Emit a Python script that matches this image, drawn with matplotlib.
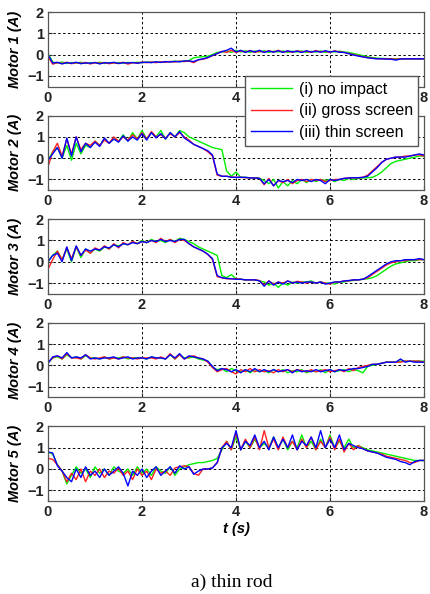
import numpy as np
import matplotlib
matplotlib.use('Agg')
import matplotlib.pyplot as plt

# sample times (s), one value every 0.1 s
t = np.linspace(0, 8, 81)

# Motor 1 current (A)
m1_green = [0.05, -0.35, -0.4, -0.35, -0.42, -0.38, -0.4, -0.36, -0.42, -0.38,
            -0.4, -0.36, -0.42, -0.38, -0.4, -0.37, -0.41, -0.37, -0.39, -0.36,
            -0.38, -0.35, -0.37, -0.34, -0.36, -0.33, -0.34, -0.31, -0.33, -0.3,
            -0.28, -0.15, -0.12, -0.1, -0.08, 0.0, 0.1, 0.12, 0.18, 0.1,
            0.2, 0.12, 0.18, 0.1, 0.17, 0.12, 0.18, 0.1, 0.16, 0.12,
            0.17, 0.1, 0.16, 0.12, 0.17, 0.1, 0.15, 0.12, 0.17, 0.1,
            0.15, 0.12, 0.16, 0.12, 0.1, 0.05, 0.0, -0.05, -0.1, -0.14,
            -0.17, -0.18, -0.19, -0.2, -0.2, -0.2, -0.2, -0.2, -0.2, -0.2, -0.2]
m1_red = [-0.1, -0.45, -0.38, -0.42, -0.36, -0.43, -0.38, -0.41, -0.37, -0.44,
          -0.38, -0.41, -0.37, -0.43, -0.39, -0.42, -0.36, -0.45, -0.38, -0.4,
          -0.36, -0.38, -0.35, -0.38, -0.34, -0.36, -0.32, -0.35, -0.31, -0.33,
          -0.3, -0.38, -0.25, -0.22, -0.15, -0.05, 0.05, 0.15, 0.1, 0.2,
          0.1, 0.17, 0.12, 0.19, 0.1, 0.16, 0.11, 0.18, 0.12, 0.2,
          0.11, 0.16, 0.1, 0.18, 0.12, 0.16, 0.1, 0.19, 0.12, 0.16,
          0.1, 0.18, 0.12, 0.1, 0.05, 0.0, -0.05, -0.1, -0.14, -0.17,
          -0.19, -0.2, -0.2, -0.2, -0.22, -0.2, -0.2, -0.2, -0.2, -0.2, -0.2]
m1_blue = [0.0, -0.4, -0.36, -0.44, -0.38, -0.41, -0.36, -0.43, -0.39, -0.41,
           -0.37, -0.44, -0.38, -0.4, -0.36, -0.42, -0.38, -0.4, -0.37, -0.41,
           -0.37, -0.36, -0.38, -0.34, -0.37, -0.33, -0.35, -0.32, -0.34, -0.3,
           -0.3, -0.33, -0.24, -0.2, -0.14, -0.04, 0.05, 0.14, 0.2, 0.3,
           0.12, 0.2, 0.1, 0.18, 0.12, 0.2, 0.1, 0.17, 0.11, 0.18,
           0.1, 0.18, 0.12, 0.16, 0.1, 0.18, 0.12, 0.16, 0.11, 0.18,
           0.12, 0.16, 0.11, 0.1, 0.04, -0.02, -0.07, -0.11, -0.15, -0.18,
           -0.2, -0.2, -0.21, -0.22, -0.26, -0.21, -0.2, -0.2, -0.2, -0.2, -0.2]

# Motor 2 current (A)
m2_green = [-0.1, 0.3, 0.5, 0.0, 0.6, -0.1, 0.7, 0.2, 0.6, 0.5,
            0.8, 0.6, 0.9, 0.7, 0.9, 0.8, 1.1, 0.8, 1.2, 0.9,
            1.3, 0.9, 1.2, 1.0, 1.3, 0.9, 1.2, 1.0, 1.3, 1.2,
            1.0, 0.9, 0.8, 0.7, 0.6, 0.5, 0.45, 0.4, -0.6, -0.85,
            -0.65, -0.9, -0.9, -0.92, -0.93, -0.95, -1.05, -1.2, -1.0, -1.4,
            -1.1, -1.3, -1.05, -1.2, -1.0, -1.15, -1.0, -1.1, -1.0, -1.05,
            -1.0, -1.1, -1.0, -1.05, -0.95, -1.0, -0.95, -0.93, -0.92, -0.9,
            -0.8, -0.65, -0.45, -0.25, -0.15, -0.1, -0.05, 0.0, 0.05, 0.1, 0.1]
m2_red = [-0.4, 0.3, 0.7, 0.1, 0.9, 0.2, 1.0, 0.4, 0.7, 0.6,
          0.8, 0.6, 0.85, 0.7, 1.0, 0.8, 1.0, 0.85, 1.1, 0.9,
          1.2, 0.9, 1.25, 1.0, 1.1, 0.95, 1.15, 1.0, 1.2, 1.0,
          0.85, 0.65, 0.55, 0.45, 0.3, 0.1, -0.8, -0.85, -0.85, -0.88,
          -0.9, -0.9, -0.92, -0.92, -0.93, -0.95, -1.25, -0.95, -1.3, -1.05,
          -1.15, -1.0, -1.2, -1.05, -1.0, -1.1, -1.0, -1.05, -1.0, -1.1,
          -1.05, -1.0, -1.0, -0.95, -0.93, -0.92, -0.92, -0.9, -0.8, -0.6,
          -0.4, -0.2, -0.05, 0.0, 0.05, 0.05, 0.1, 0.1, 0.15, 0.15, 0.1]
m2_blue = [-0.1, 0.2, 0.5, 0.0, 0.95, 0.1, 1.0, 0.3, 0.7, 0.5,
           0.75, 0.55, 0.95, 0.7, 0.9, 0.75, 1.05, 0.8, 1.0, 0.85,
           1.15, 0.85, 1.2, 0.95, 1.15, 0.9, 1.2, 1.0, 1.25, 0.95,
           0.8, 0.65, 0.55, 0.45, 0.35, 0.15, -0.75, -0.85, -0.85, -0.9,
           -0.9, -0.9, -0.9, -0.93, -0.93, -0.95, -1.2, -1.0, -1.3, -1.05,
           -1.1, -1.05, -1.15, -1.0, -1.05, -1.0, -1.1, -1.0, -1.05, -1.2,
           -1.0, -1.05, -1.0, -0.95, -0.93, -0.92, -0.92, -0.9, -0.85, -0.65,
           -0.45, -0.2, -0.05, 0.0, 0.05, 0.05, 0.05, 0.1, 0.15, 0.2, 0.15]

# Motor 3 current (A)
m3_green = [0.0, 0.3, 0.5, 0.1, 0.6, 0.0, 0.7, 0.2, 0.6, 0.4,
            0.6, 0.5, 0.7, 0.6, 0.8, 0.75, 0.85, 0.8, 0.95, 0.85,
            1.0, 0.9, 1.05, 0.95, 1.0, 0.9, 1.05, 0.95, 1.1, 1.05,
            0.95, 0.85, 0.7, 0.6, 0.5, 0.4, 0.3, -0.65, -0.75, -0.6,
            -0.8, -0.82, -0.85, -0.85, -0.85, -0.9, -0.95, -1.1, -1.0, -1.2,
            -1.0, -1.1, -0.95, -1.0, -0.95, -0.95, -0.9, -1.0, -0.95, -1.0,
            -1.0, -1.05, -0.95, -0.95, -0.9, -0.88, -0.85, -0.82, -0.8, -0.75,
            -0.65, -0.5, -0.35, -0.2, -0.1, -0.05, 0.0, 0.05, 0.05, 0.1, 0.1]
m3_red = [-0.35, 0.1, 0.5, 0.1, 0.65, 0.15, 0.7, 0.3, 0.55, 0.4,
          0.65, 0.55, 0.75, 0.6, 0.85, 0.65, 0.9, 0.8, 0.95, 0.85,
          0.95, 0.9, 1.0, 0.9, 1.1, 0.95, 1.05, 0.9, 1.05, 1.0,
          0.85, 0.7, 0.6, 0.5, 0.35, 0.1, -0.7, -0.75, -0.8, -0.8,
          -0.8, -0.82, -0.85, -0.85, -0.85, -0.88, -1.1, -0.9, -1.05, -0.95,
          -1.0, -0.9, -1.0, -0.92, -0.95, -1.0, -0.95, -1.0, -0.95, -1.0,
          -1.05, -0.95, -0.95, -0.9, -0.9, -0.85, -0.85, -0.82, -0.75, -0.6,
          -0.45, -0.3, -0.15, -0.05, 0.0, 0.05, 0.05, 0.1, 0.1, 0.1, 0.1]
m3_blue = [0.0, 0.3, 0.4, 0.0, 0.7, 0.05, 0.75, 0.3, 0.6, 0.5,
           0.6, 0.55, 0.7, 0.65, 0.8, 0.7, 0.85, 0.8, 0.9, 0.85,
           0.95, 0.9, 1.0, 0.95, 1.05, 0.95, 1.0, 0.95, 1.05, 1.05,
           0.85, 0.7, 0.6, 0.5, 0.35, 0.15, -0.65, -0.75, -0.78, -0.8,
           -0.82, -0.82, -0.85, -0.85, -0.85, -0.9, -1.15, -0.9, -1.1, -0.95,
           -1.05, -0.9, -1.0, -0.95, -1.0, -0.95, -0.95, -1.0, -0.95, -1.05,
           -1.0, -0.95, -0.95, -0.9, -0.88, -0.85, -0.85, -0.82, -0.7, -0.55,
           -0.4, -0.25, -0.1, 0.0, 0.05, 0.05, 0.1, 0.1, 0.1, 0.15, 0.1]

# Motor 4 current (A)
m4_green = [0.1, 0.35, 0.4, 0.3, 0.5, 0.35, 0.4, 0.3, 0.45, 0.35,
            0.35, 0.3, 0.4, 0.3, 0.35, 0.35, 0.4, 0.3, 0.35, 0.35,
            0.35, 0.3, 0.4, 0.35, 0.35, 0.3, 0.5, 0.3, 0.5, 0.35,
            0.35, 0.4, 0.3, 0.25, 0.2, -0.1, -0.2, -0.15, -0.3, -0.15,
            -0.25, -0.3, -0.2, -0.35, -0.2, -0.3, -0.25, -0.35, -0.2, -0.3,
            -0.2, -0.35, -0.25, -0.3, -0.2, -0.35, -0.25, -0.3, -0.2, -0.35,
            -0.2, -0.3, -0.25, -0.2, -0.3, -0.2, -0.25, -0.35, -0.05, 0.0,
            0.05, 0.1, 0.15, 0.15, 0.15, 0.2, 0.2, 0.2, 0.2, 0.2, 0.2]
m4_red = [0.15, 0.35, 0.45, 0.3, 0.55, 0.35, 0.35, 0.3, 0.5, 0.35,
          0.3, 0.35, 0.4, 0.3, 0.35, 0.3, 0.4, 0.35, 0.35, 0.3,
          0.35, 0.35, 0.35, 0.3, 0.4, 0.3, 0.55, 0.3, 0.5, 0.3,
          0.4, 0.45, 0.35, 0.3, 0.15, -0.1, -0.3, -0.2, -0.15, -0.3,
          -0.4, -0.2, -0.3, -0.15, -0.3, -0.2, -0.3, -0.25, -0.35, -0.2,
          -0.3, -0.2, -0.3, -0.2, -0.25, -0.3, -0.2, -0.3, -0.25, -0.2,
          -0.3, -0.25, -0.2, -0.3, -0.15, -0.25, -0.1, -0.05, 0.0, 0.05,
          0.05, 0.1, 0.15, 0.15, 0.15, 0.15, 0.2, 0.2, 0.2, 0.2, 0.15]
m4_blue = [0.1, 0.4, 0.45, 0.35, 0.6, 0.35, 0.4, 0.35, 0.5, 0.3,
           0.35, 0.3, 0.35, 0.35, 0.4, 0.3, 0.35, 0.4, 0.3, 0.35,
           0.35, 0.3, 0.4, 0.35, 0.35, 0.3, 0.5, 0.35, 0.55, 0.3,
           0.45, 0.4, 0.35, 0.3, 0.2, -0.05, -0.25, -0.15, -0.2, -0.3,
           -0.2, -0.35, -0.2, -0.3, -0.15, -0.3, -0.2, -0.3, -0.2, -0.3,
           -0.25, -0.2, -0.35, -0.2, -0.3, -0.25, -0.3, -0.2, -0.3, -0.25,
           -0.2, -0.3, -0.2, -0.25, -0.2, -0.15, -0.15, -0.1, -0.05, 0.05,
           0.05, 0.1, 0.15, 0.15, 0.15, 0.3, 0.15, 0.2, 0.15, 0.15, 0.15]

# Motor 5 current (A)
m5_green = [0.8, 0.7, 0.2, -0.1, -0.7, -0.3, 0.1, -0.2, 0.0, -0.4,
            0.1, -0.2, 0.0, -0.3, 0.1, -0.1, -0.2, 0.0, -0.3, 0.1,
            -0.2, 0.0, -0.3, 0.1, -0.1, -0.2, 0.1, -0.3, 0.0, 0.1,
            0.2, 0.25, 0.3, 0.3, 0.35, 0.4, 0.5, 0.9, 1.3, 0.9,
            1.5, 0.9, 1.3, 1.0, 1.4, 1.0, 1.2, 1.0, 1.5, 1.0,
            1.4, 0.9, 1.3, 1.0, 1.6, 1.0, 1.3, 0.9, 1.4, 1.0,
            1.6, 1.0, 1.3, 1.0, 1.4, 1.0, 1.1, 1.0, 0.9, 0.85,
            0.8, 0.75, 0.7, 0.65, 0.6, 0.55, 0.5, 0.45, 0.4, 0.4, 0.4]
m5_red = [0.5, 0.45, 0.2, -0.1, -0.6, -0.2, -0.5, 0.0, -0.6, -0.1,
          -0.3, 0.0, -0.4, -0.1, -0.2, 0.05, -0.3, -0.1, -0.5, 0.0,
          -0.3, -0.1, -0.5, 0.0, -0.2, -0.1, -0.3, 0.05, 0.1, 0.15,
          0.1, -0.2, -0.3, 0.0, 0.0, 0.05, 0.3, 1.0, 1.3, 0.9,
          1.7, 0.9, 1.4, 1.0, 1.5, 0.9, 1.8, 1.0, 1.4, 0.9,
          1.5, 1.0, 1.3, 0.9, 1.4, 1.0, 1.5, 0.9, 1.3, 1.0,
          1.5, 0.9, 1.4, 0.8, 1.2, 0.9, 1.1, 0.95, 0.85, 0.8,
          0.75, 0.7, 0.6, 0.55, 0.5, 0.45, 0.4, 0.3, 0.3, 0.4, 0.4]
m5_blue = [0.8, 0.75, 0.15, -0.1, -0.4, -0.6, 0.0, -0.4, 0.1, -0.3,
           -0.1, -0.4, 0.0, -0.3, -0.1, 0.1, -0.2, -0.8, -0.1, -0.3,
           0.0, -0.4, -0.1, 0.1, -0.3, -0.1, 0.1, -0.2, 0.15, 0.0,
           0.1, -0.25, -0.1, 0.0, 0.0, 0.05, 0.3, 1.0, 1.2, 1.0,
           1.8, 0.9, 1.3, 1.1, 1.6, 1.0, 1.3, 0.9, 1.5, 1.0,
           1.4, 1.0, 1.6, 0.9, 1.3, 1.1, 1.5, 1.0, 1.8, 1.0,
           1.4, 1.0, 1.6, 0.9, 1.2, 1.1, 1.0, 0.95, 0.85, 0.8,
           0.75, 0.65, 0.55, 0.5, 0.45, 0.35, 0.3, 0.2, 0.35, 0.4, 0.4]

motors = [
    (m1_green, m1_red, m1_blue),
    (m2_green, m2_red, m2_blue),
    (m3_green, m3_red, m3_blue),
    (m4_green, m4_red, m4_blue),
    (m5_green, m5_red, m5_blue),
]
series_labels = ['(i) no impact', '(ii) gross screen', '(iii) thin screen']
series_colors = ['#00ee00', '#ff2020', '#0000ff']
x_ticks = [0, 2, 4, 6, 8]
y_ticks = [-1, 0, 1, 2]

plt.rcParams['font.family'] = ['Liberation Sans', 'DejaVu Sans']

W, H = 430, 594
fig = plt.figure(figsize=(W / 100, H / 100), dpi=100)
fig.patch.set_facecolor('white')

ax_left, ax_right = 48, 424
ax_h = 74.5
lines = []
for k, series in enumerate(motors):
    top = 12 + 103.6 * k
    ax = fig.add_axes([ax_left / W, 1 - (top + ax_h) / H,
                       (ax_right - ax_left) / W, ax_h / H])
    for vals, col in zip(series, series_colors):
        ln, = ax.plot(t, vals, color=col, linewidth=1.0)
        if k == 0:
            lines.append(ln)
    ax.set_xlim(0, 8)
    ax.set_ylim(-1.5, 2)
    ax.set_xticks(x_ticks)
    ax.set_yticks(y_ticks)
    if k == 0:
        # the "6" under the legend is hidden in the original
        ax.set_xticklabels(['' if v == 6 else str(v) for v in x_ticks])
    ax.grid(True, color='black', linestyle=(0, (2.5, 2.5)), linewidth=0.7)
    ax.tick_params(direction='in', length=3, labelsize=10.5, colors='#222222',
                   pad=3)
    for lab in ax.get_xticklabels() + ax.get_yticklabels():
        lab.set_fontweight('bold')
    for sp in ax.spines.values():
        sp.set_color('#555555')
        sp.set_linewidth(0.9)
    ax.set_ylabel(f'Motor {k + 1} (A)', fontsize=10.5, fontweight='bold',
                  fontstyle='italic', labelpad=4)
    if k == 4:
        ax.set_xlabel('t (s)', fontsize=10.5, fontweight='bold',
                      fontstyle='italic', labelpad=2)

leg = fig.legend(lines, series_labels, loc='upper left',
                 bbox_to_anchor=(245 / W, 1 - 76 / H), fontsize=11.5,
                 fancybox=False, framealpha=1, edgecolor='#555555',
                 handlelength=2.6, handletextpad=0.4, borderpad=0.35,
                 labelspacing=0.42, borderaxespad=0)
leg.get_frame().set_linewidth(1.0)

fig.text(232 / W, 1 - 582 / H, 'a) thin rod', ha='center', va='center',
         fontsize=14, family='Liberation Serif')

plt.savefig('out.png', dpi=100)
plt.close()
